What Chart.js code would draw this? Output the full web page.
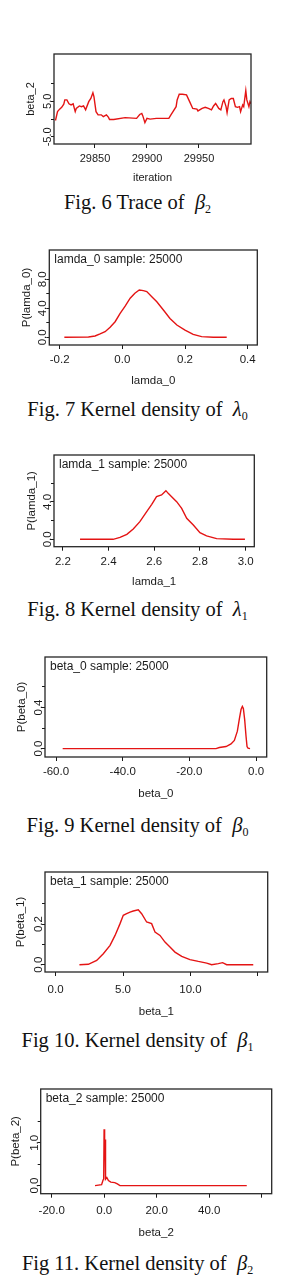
<!DOCTYPE html>
<html>
<head>
<meta charset="utf-8">
<script src="https://cdn.jsdelivr.net/npm/chart.js@4.4.0/dist/chart.umd.min.js"></script>
<style>
  html, body { margin: 0; padding: 0; background: #fff; }
  #page { position: relative; width: 296px; height: 1286px; overflow: hidden; }
  canvas { position: absolute; left: 0; }
  .cap {
    position: absolute; left: 0; width: 275px; text-align: center;
    font-family: "Liberation Serif", "Times New Roman", serif;
    font-size: 20.5px; line-height: 1; color: #111; white-space: nowrap;
  }
  .cap sub { font-size: 12px; vertical-align: baseline; position: relative; top: 4px; }
</style>
</head>
<body>
<div id="page"></div>
<script>
// Fig. 6 trace of beta_2
const iterB2 = [29812, 29814, 29816, 29818, 29820, 29821, 29823, 29825, 29827, 29829, 29831, 29832, 29835, 29837, 29839,
  29841, 29844, 29846, 29848, 29849, 29851, 29853, 29856, 29858, 29861, 29863, 29864, 29868, 29879, 29890,
  29893, 29895, 29896, 29898, 29900, 29903, 29909, 29921, 29923, 29925, 29928, 29929, 29931, 29934, 29938,
  29941, 29944, 29948, 29949, 29953, 29956, 29959, 29962, 29964, 29966, 29969, 29971, 29973, 29974, 29976,
  29977, 29979, 29981, 29983, 29985, 29987, 29989, 29990, 29992, 29993, 29995, 29996, 29998, 29999, 30000];
const traceB2 = [-0.4, 2.1, 2.8, 3.3, 4.2, 5.4, 5.4, 4.3, 4.0, 4.3, 2.1, 3.0, 3.7, 3.5, 3.7,
  2.6, 4.9, 5.8, 7.4, 6.3, 2.1, 1.2, 1.2, 0.7, 1.2, 0.5, -0.1, -0.1, 0.4, 0.2,
  1.3, 1.6, 0.9, -1.0, 0.2, 0.0, 0.2, 0.2, 1.2, 2.1, 3.5, 5.4, 7.0, 7.0, 6.8,
  4.9, 3.0, 2.8, 2.3, 3.0, 3.3, 3.0, 2.6, 3.7, 4.4, 3.0, 2.6, 4.9, 5.4, 3.5,
  1.8, 5.4, 5.8, 5.8, 3.5, 3.3, 3.5, 2.1, 4.0, 3.5, 8.0, 5.4, 3.5, 4.9, 4.3];
const xTicks1 = [29850, 29900, 29950];
const xLabels1 = ['29850', '29900', '29950'];
const yTicks1 = [-5, 0, 5, 10];
const yLabels1 = ['-5.0', '', '5.0', ''];

// Fig. 7 density of lamda_0
const xLamda0 = [-0.185, -0.108, -0.087, -0.071, -0.055, -0.039, -0.023, -0.007, 0.009, 0.025, 0.040, 0.054,
  0.067, 0.078, 0.094, 0.110, 0.131, 0.152, 0.174, 0.200, 0.226, 0.253, 0.290, 0.333];
const pLamda0 = [0, 0.04, 0.18, 0.46, 0.78, 1.38, 2.15, 3.3, 4.3, 5.4, 6.07, 6.52,
  6.43, 6.3, 5.6, 4.9, 3.77, 2.6, 1.7, 1.0, 0.41, 0.09, 0, 0];
const xTicks2 = [-0.2, 0, 0.2, 0.4];
const xLabels2 = ['-0.2', '0.0', '0.2', '0.4'];
const yTicks2 = [0, 2, 4, 6, 8];
const yLabels2 = ['0.0', '', '4.0', '', '8.0'];

// Fig. 8 density of lamda_1
const xLamda1 = [2.275, 2.42, 2.45, 2.48, 2.508, 2.537, 2.567, 2.589, 2.61, 2.632, 2.651, 2.661,
  2.676, 2.698, 2.72, 2.742, 2.771, 2.8, 2.829, 2.873, 2.946, 2.997];
const pLamda1 = [0, 0, 0.2, 0.53, 1.1, 1.89, 2.96, 3.75, 4.57, 4.75, 5.21, 4.92,
  4.57, 4.03, 3.32, 2.25, 1.54, 0.71, 0.36, 0.07, 0, 0];
const xTicks3 = [2.2, 2.4, 2.6, 2.8, 3.0];
const xLabels3 = ['2.2', '2.4', '2.6', '2.8', '3.0'];
const yTicks3 = [0, 2, 4, 6];
const yLabels3 = ['0.0', '', '4.0', ''];

// Fig. 9 density of beta_0
const xBeta0 = [-58, -12, -11, -9, -7.5, -6.5, -5.6, -5.0, -4.5, -4.1, -3.8, -3.4, -3.0, -2.7, -2.4, -1.8];
const pBeta0 = [0, 0, 0.01, 0.02, 0.045, 0.08, 0.17, 0.29, 0.38, 0.41, 0.39, 0.28, 0.12, 0.02, 0.005, 0];
const xTicks4 = [-60, -40, -20, 0];
const xLabels4 = ['-60.0', '-40.0', '-20.0', '0.0'];
const yTicks4 = [0, 0.2, 0.4, 0.6];
const yLabels4 = ['0.0', '', '0.4', ''];

// Fig 10 density of beta_1
const xBeta1 = [1.77, 2.43, 3.05, 3.54, 4.04, 4.41, 4.78, 5.02, 5.27, 5.52, 5.76, 6.13, 6.38, 6.75, 7.12,
  7.37, 7.74, 8.11, 8.48, 8.85, 9.35, 9.96, 10.58, 11.2, 11.57, 12.06, 12.38, 12.68, 14.65];
const pBeta1 = [0, 0.002, 0.021, 0.054, 0.095, 0.144, 0.202, 0.243, 0.251, 0.259, 0.264, 0.27, 0.251, 0.21, 0.202,
  0.161, 0.144, 0.111, 0.087, 0.062, 0.041, 0.025, 0.016, 0.008, 0, 0.005, 0.01, 0, 0];
const xTicks5 = [0, 5, 10, 15];
const xLabels5 = ['0.0', '5.0', '10.0', ''];
const yTicks5 = [0, 0.1, 0.2, 0.3];
const yLabels5 = ['0.0', '', '0.2', ''];

// Fig 11 density of beta_2
const xBeta2 = [-3.5, -1.0, -0.5, -0.2, -0.05, 0.15, 0.3, 0.5, 1.0, 1.6, 2.5, 4.0, 5.0, 6.0, 54.3];
const pBeta2 = [0, 0.02, 0.12, 0.16, 1.32, 0.6, 1.08, 0.15, 0.19, 0.12, 0.08, 0.07, 0.04, 0, 0];
const xTicks6 = [-20, 0, 20, 40, 60];
const xLabels6 = ['-20.0', '0.0', '20.0', '40.0', ''];
const yTicks6 = [0, 0.5, 1, 1.5];
const yLabels6 = ['0.0', '', '1.0', ''];

Chart.defaults.font.family = '"Liberation Sans", Arial, sans-serif';
Chart.defaults.color = '#1a1a1a';

const INK = '#1a1a1a';
const RED = 'rgb(228,20,20)';

// box = [left, top, right, bottom] of the plot frame on the page
const panels = [
  { box: [54, 54, 251, 144], xr: [29810.6, 30000], yr: [-7.0, 18.3], xs: iterB2, ys: traceB2,
    xt: xTicks1, xl: xLabels1, yt: yTicks1, yl: yLabels1, xTitle: 'iteration', yTitle: 'beta_2', note: '',
    yTitleX: 31, xLabelY: 159, xTitleY: 178, fs: 11,
    cap: 'Fig. 6 Trace of&nbsp; <i>β</i><sub>2</sub>', capBase: 209.5 },
  { box: [49.3, 250, 257.3, 345], xr: [-0.233, 0.4306], yr: [-1.06, 12.04], xs: xLamda0, ys: pLamda0,
    xt: xTicks2, xl: xLabels2, yt: yTicks2, yl: yLabels2, xTitle: 'lamda_0', yTitle: 'P(lamda_0)',
    note: 'lamda_0 sample: 25000', yTitleX: 27, xLabelY: 360, xTitleY: 380.7, fs: 11.5,
    cap: 'Fig. 7 Kernel density of&nbsp; <i>λ</i><sub>0</sub>', capBase: 415.7 },
  { box: [54, 455, 254.3, 546.7], xr: [2.161, 3.038], yr: [-0.79, 9.03], xs: xLamda1, ys: pLamda1,
    xt: xTicks3, xl: xLabels3, yt: yTicks3, yl: yLabels3, xTitle: 'lamda_1', yTitle: 'P(lamda_1)',
    note: 'lamda_1 sample: 25000', yTitleX: 31.5, xLabelY: 561.7, xTitleY: 581.7, fs: 11.5,
    cap: 'Fig. 8 Kernel density of&nbsp; <i>λ</i><sub>1</sub>', capBase: 615.7 },
  { box: [45, 656.7, 266.7, 756.7], xr: [-63.3, 3.2], yr: [-0.082, 0.892], xs: xBeta0, ys: pBeta0,
    xt: xTicks4, xl: xLabels4, yt: yTicks4, yl: yLabels4, xTitle: 'beta_0', yTitle: 'P(beta_0)',
    note: 'beta_0 sample: 25000', yTitleX: 21.7, xLabelY: 771.7, xTitleY: 794, fs: 11.5,
    cap: 'Fig. 9 Kernel density of&nbsp; <i>β</i><sub>0</sub>', capBase: 831.7 },
  { box: [45, 871.7, 267.7, 971.7], xr: [-0.78, 15.72], yr: [-0.036, 0.456], xs: xBeta1, ys: pBeta1,
    xt: xTicks5, xl: xLabels5, yt: yTicks5, yl: yLabels5, xTitle: 'beta_1', yTitle: 'P(beta_1)',
    note: 'beta_1 sample: 25000', yTitleX: 21, xLabelY: 990, xTitleY: 1011.7, fs: 11.5,
    cap: 'Fig 10. Kernel density of&nbsp; <i>β</i><sub>1</sub>', capBase: 1046.7 },
  { box: [40.7, 1089.3, 271.7, 1194], xr: [-24.2, 63.8], yr: [-0.19, 2.26], xs: xBeta2, ys: pBeta2,
    xt: xTicks6, xl: xLabels6, yt: yTicks6, yl: yLabels6, xTitle: 'beta_2', yTitle: 'P(beta_2)',
    note: 'beta_2 sample: 25000', yTitleX: 16, xLabelY: 1210.7, xTitleY: 1233, fs: 11.5,
    cap: 'Fig 11. Kernel density of&nbsp; <i>β</i><sub>2</sub>', capBase: 1270.5 }
];

// frame, rotated y tick labels and the "sample" note
const framePlugin = {
  id: 'frame',
  afterDraw(chart, args, opts) {
    const { ctx, chartArea: a, scales } = chart;
    ctx.save();
    ctx.strokeStyle = '#262626';
    ctx.lineWidth = 1.3;
    ctx.strokeRect(a.left, a.top, a.right - a.left, a.bottom - a.top);
    ctx.fillStyle = INK;
    ctx.font = opts.fs + 'px "Liberation Sans", Arial, sans-serif';
    ctx.textAlign = 'center';
    ctx.textBaseline = 'alphabetic';
    opts.yt.forEach((v, i) => {
      if (!opts.yl[i]) return;
      const y = scales.y.getPixelForValue(v);
      ctx.save();
      ctx.translate(a.left - 3, y);
      ctx.rotate(-Math.PI / 2);
      ctx.fillText(opts.yl[i], 0, 0);
      ctx.restore();
    });
    if (opts.note) {
      ctx.font = '12px "Liberation Sans", Arial, sans-serif';
      ctx.textAlign = 'left';
      ctx.textBaseline = 'middle';
      ctx.fillText(opts.note, a.left + 5, a.top + 10);
    }
    ctx.restore();
  }
};

const page = document.getElementById('page');

function makePanel(p) {
  const [L, T, R, B] = p.box;
  const lh = p.fs * 1.2;
  const padTop = 6;
  const top = T - padTop;
  const yTick = 3, xTick = 4;
  const yTitleTop = p.yTitleX - lh / 2;
  const yTitleBottom = L - yTick - lh - yTitleTop;
  const xTickPad = p.xLabelY - B - xTick - lh / 2;
  const xTitleTop = p.xTitleY - (B + xTick + lh + 2 * xTickPad) - lh / 2;
  const xHeight = xTick + lh + 2 * xTickPad + lh + xTitleTop;
  const inner = B - top;
  const H = Math.ceil(inner + xHeight + 2);

  const canvas = document.createElement('canvas');
  canvas.width = 296;
  canvas.height = H;
  canvas.style.top = top + 'px';
  page.appendChild(canvas);

  new Chart(canvas, {
    type: 'line',
    data: {
      datasets: [{
        data: p.xs.map((x, i) => ({ x: x, y: p.ys[i] })),
        borderColor: RED,
        borderWidth: 1.4,
        pointRadius: 0,
        tension: 0,
        fill: false
      }]
    },
    options: {
      responsive: false,
      animation: false,
      events: [],
      layout: { padding: { left: 0, top: padTop, right: 296 - R, bottom: H - inner - xHeight } },
      plugins: {
        legend: { display: false },
        tooltip: { enabled: false },
        frame: { yt: p.yt, yl: p.yl, note: p.note, fs: p.fs }
      },
      scales: {
        x: {
          type: 'linear',
          min: p.xr[0],
          max: p.xr[1],
          afterBuildTicks: s => { s.ticks = p.xt.map(v => ({ value: v })); },
          ticks: {
            autoSkip: false, maxRotation: 0, minRotation: 0,
            padding: xTickPad,
            font: { size: p.fs },
            color: INK,
            callback: (v, i) => p.xl[i]
          },
          grid: { drawOnChartArea: false, drawTicks: true, tickLength: xTick, color: INK, lineWidth: 1 },
          border: { display: false },
          title: { display: true, text: p.xTitle, color: INK, font: { size: p.fs }, padding: { top: xTitleTop, bottom: 0 } }
        },
        y: {
          type: 'linear',
          min: p.yr[0],
          max: p.yr[1],
          afterBuildTicks: s => { s.ticks = p.yt.map(v => ({ value: v })); },
          ticks: { display: false },
          grid: { drawOnChartArea: false, drawTicks: true, tickLength: yTick, color: INK, lineWidth: 1 },
          border: { display: false },
          title: { display: true, text: p.yTitle, color: INK, font: { size: p.fs }, padding: { top: yTitleTop, bottom: yTitleBottom } }
        }
      }
    },
    plugins: [framePlugin]
  });

  const cap = document.createElement('div');
  cap.className = 'cap';
  cap.innerHTML = p.cap;
  cap.style.top = (p.capBase - 17.2) + 'px';
  page.appendChild(cap);
}

panels.forEach(makePanel);
</script>
</body>
</html>
